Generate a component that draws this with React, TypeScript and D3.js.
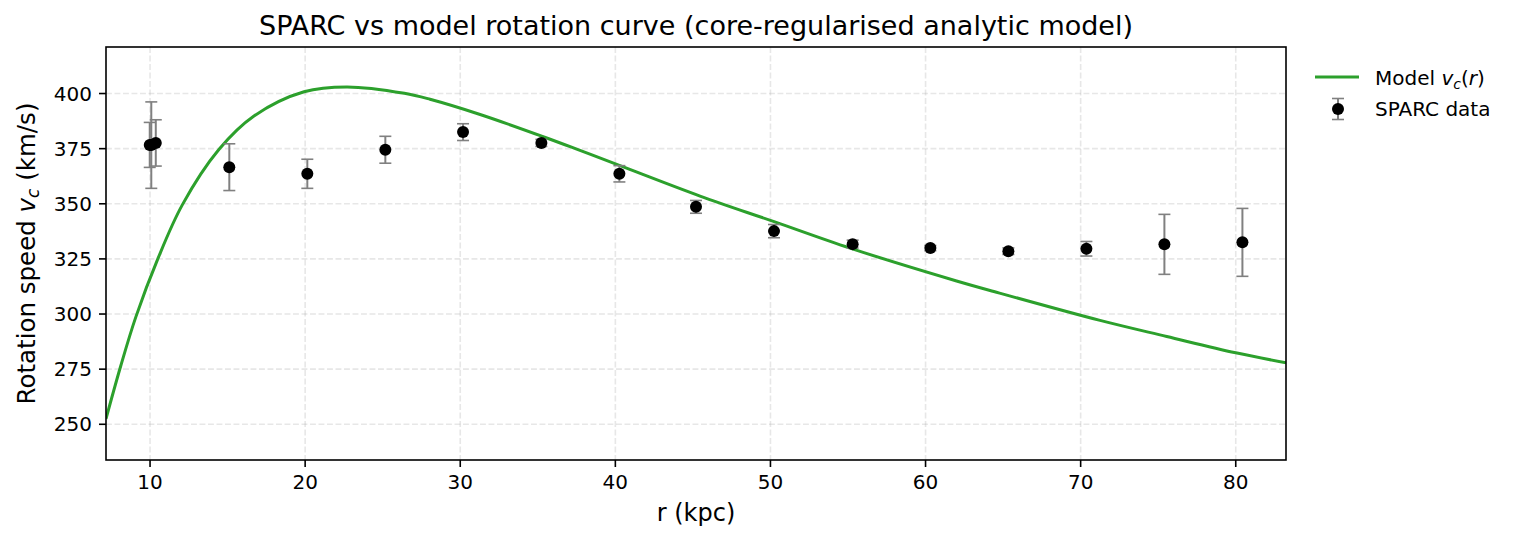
import React from "react";
import * as d3 from "d3";

// ---- data ----
const dataR: number[] = [9.98, 10.08, 10.37, 15.11, 20.14, 25.17, 30.18, 35.23, 40.26, 45.2, 50.23, 55.3, 60.31, 65.34, 70.37, 75.4, 80.43];
const dataV: number[] = [376.7, 376.6, 377.6, 366.6, 363.6, 374.5, 382.5, 377.6, 363.6, 348.6, 337.6, 331.7, 329.9, 328.5, 329.6, 331.6, 332.5];
const dataErr: number[] = [10.2, 19.6, 10.5, 10.6, 6.6, 6.1, 3.8, 1.6, 3.7, 2.9, 3.0, 1.8, 1.2, 1.5, 3.3, 13.6, 15.4];

const modelR: number[] = [7.16, 8.1, 9.08, 10.5, 12.08, 14.45, 16.7, 19.93, 22.7, 26.4, 28.05, 31.28, 35.4, 37.72, 40.26, 45.46, 50.19, 55.13, 62.0, 64.16, 71.25, 75.55, 80.0, 83.24];
const modelV: number[] = [252.5, 276.2, 298.6, 325.0, 349.5, 374.7, 389.8, 400.8, 403.0, 400.1, 397.4, 390.5, 380.3, 374.2, 367.4, 353.5, 342.0, 329.9, 315.0, 310.7, 297.1, 289.8, 282.4, 277.9];

const xTicks: number[] = [10, 20, 30, 40, 50, 60, 70, 80];
const yTicks: number[] = [250, 275, 300, 325, 350, 375, 400];
const xDomain: [number, number] = [7.16, 83.24];
const yDomain: [number, number] = [233.8, 421.1];

const titleText = "SPARC vs model rotation curve (core-regularised analytic model)";

const W = 1517, H = 542;
const L = 106, R = 1286, T = 47, B = 460;
const FONT = "DejaVu Sans";
const GREEN = "#2ca02c";
const ERRC = "#808080";

export default function App() {
  const x = d3.scaleLinear().domain(xDomain).range([L, R]);
  const y = d3.scaleLinear().domain(yDomain).range([B, T]);
  const pts: [number, number][] = modelR.map((r, i) => [r, modelV[i]]);
  const line = d3
    .line<[number, number]>()
    .x((d) => x(d[0]))
    .y((d) => y(d[1]))
    .curve(d3.curveCatmullRom.alpha(0.5));

  return (
    <svg
      width={W}
      height={H}
      style={{ position: "absolute", left: 0, top: 0, background: "#fff" }}
      fontFamily={FONT}
    >
      <rect x={0} y={0} width={W} height={H} fill="#fff" />
      <defs>
        <clipPath id="plotclip">
          <rect x={L} y={T} width={R - L} height={B - T} />
        </clipPath>
      </defs>
      {/* grid */}
      <g stroke="#b0b0b0" strokeOpacity={0.3} strokeWidth={1.6} strokeDasharray="5.9,2.6">
        {xTicks.map((t) => (
          <line key={"gx" + t} x1={x(t)} x2={x(t)} y1={T} y2={B} />
        ))}
        {yTicks.map((t) => (
          <line key={"gy" + t} x1={L} x2={R} y1={y(t)} y2={y(t)} />
        ))}
      </g>
      {/* model curve */}
      <path d={line(pts) || ""} fill="none" stroke={GREEN} strokeWidth={3} clipPath="url(#plotclip)" />
      {/* error bars */}
      <g stroke={ERRC} strokeWidth={2}>
        {dataR.map((r, i) => {
          const cx = x(r);
          const y1 = y(dataV[i] + dataErr[i]);
          const y2 = y(dataV[i] - dataErr[i]);
          return (
            <g key={"e" + i}>
              <line x1={cx} x2={cx} y1={y1} y2={y2} />
              <line x1={cx - 6} x2={cx + 6} y1={y1} y2={y1} strokeWidth={1.6} />
              <line x1={cx - 6} x2={cx + 6} y1={y2} y2={y2} strokeWidth={1.6} />
            </g>
          );
        })}
      </g>
      {/* points */}
      <g fill="#000">
        {dataR.map((r, i) => (
          <circle key={"p" + i} cx={x(r)} cy={y(dataV[i])} r={6} />
        ))}
      </g>
      {/* frame */}
      <rect x={L} y={T} width={R - L} height={B - T} fill="none" stroke="#000" strokeWidth={1.6} />
      {/* x ticks */}
      <g fontSize={20} fill="#000" textAnchor="middle">
        {xTicks.map((t) => (
          <g key={"xt" + t}>
            <line x1={x(t)} x2={x(t)} y1={B} y2={B + 7} stroke="#000" strokeWidth={1.6} />
            <text x={x(t)} y={B + 29}>{t}</text>
          </g>
        ))}
      </g>
      {/* y ticks */}
      <g fontSize={20} fill="#000" textAnchor="end">
        {yTicks.map((t) => (
          <g key={"yt" + t}>
            <line x1={L - 7} x2={L} y1={y(t)} y2={y(t)} stroke="#000" strokeWidth={1.6} />
            <text x={L - 14} y={y(t)} dy="0.36em">{t}</text>
          </g>
        ))}
      </g>
      {/* title */}
      <text x={(L + R) / 2} y={35} textAnchor="middle" fontSize={27} fill="#000">
        {titleText}
      </text>
      {/* x label */}
      <text x={(L + R) / 2} y={521} textAnchor="middle" fontSize={24} fill="#000">
        r (kpc)
      </text>
      {/* y label */}
      <text transform={`translate(35, ${(T + B) / 2}) rotate(-90)`} textAnchor="middle" fontSize={24.5} fill="#000">
        Rotation speed{" "}
        <tspan fontStyle="italic">v</tspan>
        <tspan fontStyle="italic" fontSize={17} dy={4}>c</tspan>
        <tspan dy={-4}> (km/s)</tspan>
      </text>
      {/* legend */}
      <g fontSize={20} fill="#000">
        <line x1={1315} x2={1359} y1={77} y2={77} stroke={GREEN} strokeWidth={3} />
        <text x={1375} y={85}>
          Model <tspan fontStyle="italic">v</tspan>
          <tspan fontStyle="italic" fontSize={14} dy={4}>c</tspan>
          <tspan dy={-4}>(</tspan>
          <tspan fontStyle="italic">r</tspan>
          <tspan>)</tspan>
        </text>
        <g stroke={ERRC}>
          <line x1={1338} x2={1338} y1={98.5} y2={119.5} strokeWidth={2} />
          <line x1={1332} x2={1344} y1={98.5} y2={98.5} strokeWidth={1.6} />
          <line x1={1332} x2={1344} y1={119.5} y2={119.5} strokeWidth={1.6} />
        </g>
        <circle cx={1338} cy={109} r={6} fill="#000" />
        <text x={1375} y={116}>SPARC data</text>
      </g>
    </svg>
  );
}
